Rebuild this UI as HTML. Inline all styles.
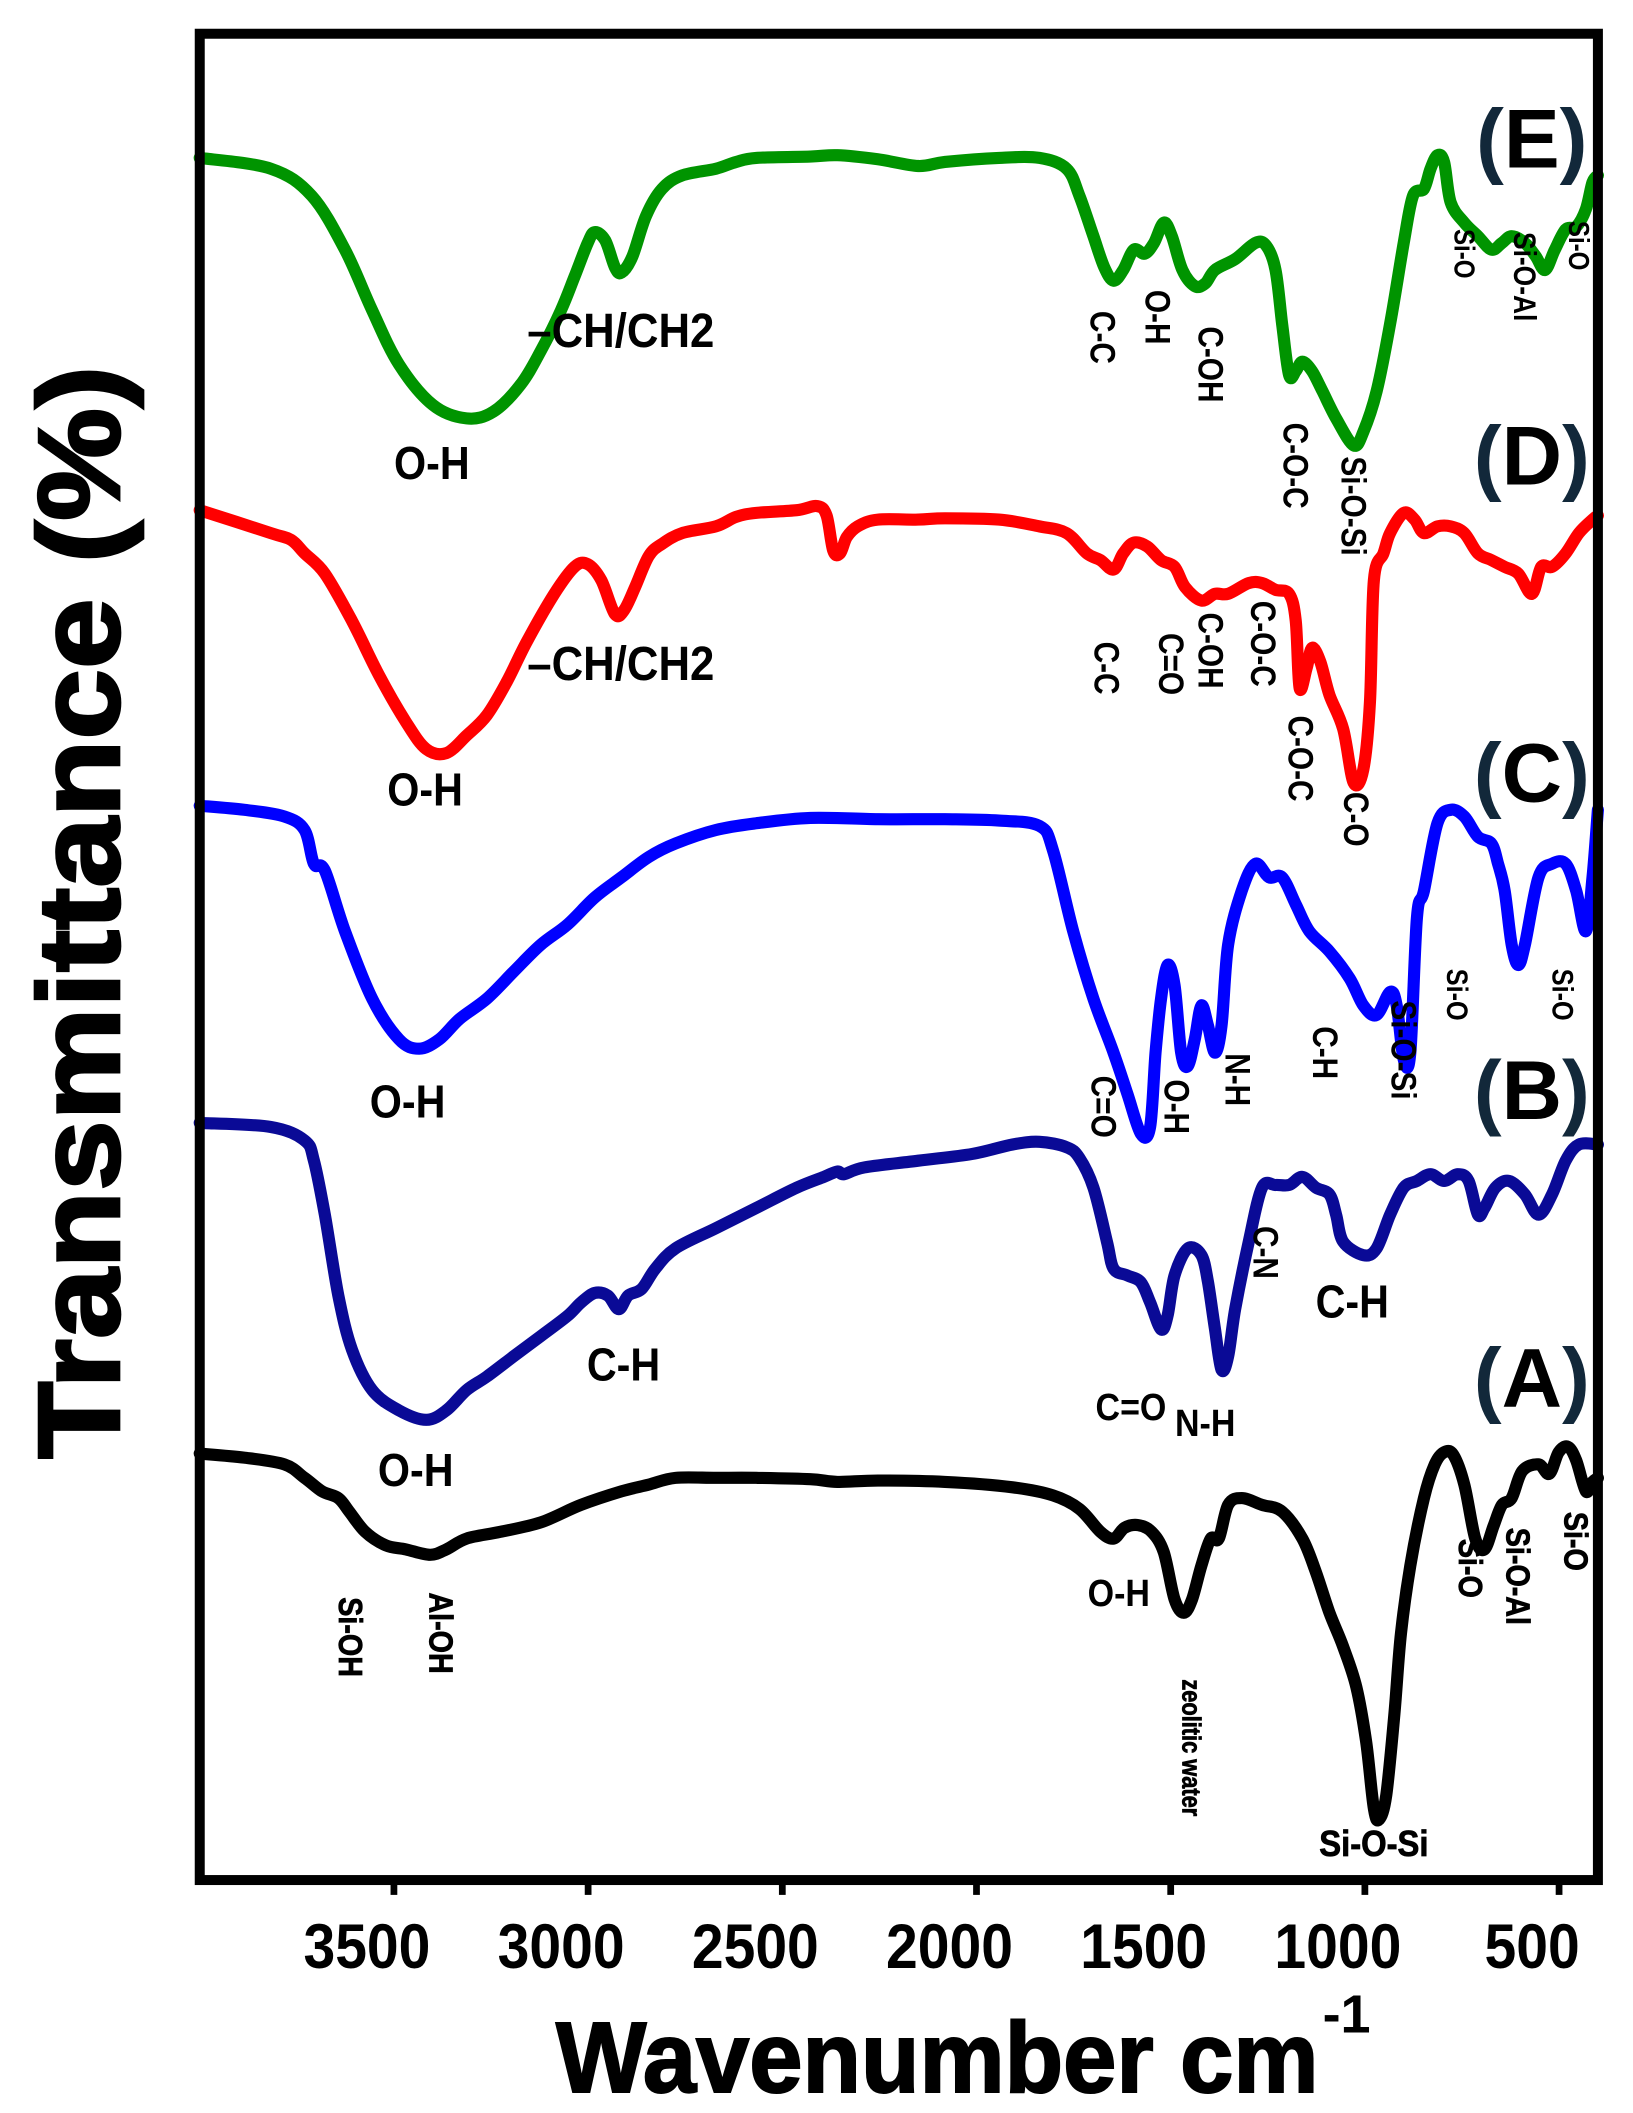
<!DOCTYPE html>
<html><head><meta charset="utf-8"><style>
html,body{margin:0;padding:0;background:#fff;}
svg{display:block;}
text{font-family:"Liberation Sans",sans-serif;font-weight:bold;}
</style></head><body>
<svg id="chart" width="1633" height="2113" viewBox="0 0 1210 1565.6" preserveAspectRatio="none" xmlns="http://www.w3.org/2000/svg">
<g id="series"></g>
<rect x="148" y="25" width="1036" height="1368" fill="none" stroke="#000" stroke-width="7.4"/>
<g id="xticks"></g>
<text transform="translate(88,676) rotate(-90)" text-anchor="middle" font-size="86" textLength="810" lengthAdjust="spacingAndGlyphs" stroke="#000" stroke-width="2">Transmittance (%)</text>
<text x="412" y="1550" font-size="74" textLength="565" lengthAdjust="spacingAndGlyphs" stroke="#000" stroke-width="1.5">Wavenumber cm</text>
<text x="980" y="1506" font-size="40">-1</text>
<g id="labels"></g>
</svg>
<script>
const xTicks=[3500,3000,2500,2000,1500,1000,500];
const wnE=[4000,3817,3712,3626,3556,3487,3400,3313,3244,3174,3122,3070,3035,3001,2983,2956,2931,2914,2886,2851,2810,2758,2671,2619,2567,2428,2358,2254,2150,2081,1942,1838,1768,1735,1699,1671,1647,1622,1595,1567,1543,1518,1497,1470,1438,1411,1386,1334,1282,1254,1230,1213,1195,1178,1161,1136,1109,1074,1029,1004,970,935,900,876,848,831,813,796,779,744,709,674,647,622,588,560,536,511,483,456,431,414,400];
const tE=[1276,1268,1248,1208,1163,1123,1093,1083,1088,1108,1133,1163,1188,1213,1221,1215,1195,1191,1203,1233,1253,1263,1268,1273,1276,1277,1278,1275,1270,1273,1276,1276,1268,1248,1218,1195,1185,1193,1208,1205,1213,1228,1218,1193,1181,1183,1193,1201,1213,1211,1193,1153,1115,1118,1125,1118,1103,1083,1063,1073,1103,1153,1213,1248,1253,1268,1278,1273,1243,1228,1218,1208,1213,1218,1213,1203,1193,1208,1223,1225,1238,1258,1263];
const wnD=[4000,3817,3765,3730,3678,3608,3539,3469,3417,3365,3313,3261,3209,3157,3087,3035,3001,2966,2931,2907,2879,2844,2810,2758,2671,2619,2567,2463,2410,2386,2369,2351,2334,2306,2254,2150,2081,1942,1838,1768,1716,1681,1647,1622,1595,1560,1525,1490,1463,1421,1386,1352,1299,1265,1230,1195,1178,1168,1150,1136,1115,1091,1056,1029,1004,987,977,952,935,900,872,848,813,779,744,709,674,640,605,570,546,518,483,449,414,400];
const tD=[1015,998,993,983,968,933,893,858,838,835,848,863,888,918,953,973,975,963,938,941,958,981,990,998,1003,1010,1013,1015,1018,1011,985,983,995,1003,1008,1008,1009,1008,1003,998,983,978,971,983,991,988,978,973,958,948,953,953,961,961,956,953,933,883,898,913,903,878,853,813,823,873,963,983,998,1013,1008,998,1003,1003,998,983,978,973,968,953,973,973,983,998,1008,1011];
const wnC=[4000,3886,3782,3730,3706,3678,3626,3556,3487,3435,3383,3331,3261,3192,3122,3053,2983,2914,2844,2775,2671,2567,2428,2254,2081,1942,1838,1803,1751,1699,1647,1612,1577,1553,1539,1525,1508,1490,1473,1456,1438,1421,1404,1386,1369,1352,1317,1282,1247,1213,1178,1143,1091,1039,1004,970,935,918,900,883,866,848,813,779,744,709,674,657,640,622,605,588,553,518,483,456,431,414,400];
const tC=[796,793,788,778,753,748,703,653,623,616,623,638,653,673,693,708,728,743,758,768,778,783,787,786,786,785,781,763,703,653,613,583,553,558,613,653,678,663,613,603,623,648,633,613,633,693,733,753,743,743,723,703,688,668,648,641,658,648,608,613,713,733,783,793,788,773,768,753,733,693,678,693,743,753,753,733,703,743,793];
const wnB=[4000,3817,3730,3706,3678,3643,3608,3556,3487,3417,3365,3313,3261,3192,3122,3053,3018,2983,2949,2921,2897,2862,2827,2775,2671,2567,2463,2393,2358,2341,2289,2150,2011,1907,1838,1768,1735,1699,1664,1647,1612,1577,1553,1525,1508,1490,1456,1421,1404,1386,1369,1352,1334,1299,1265,1230,1195,1161,1126,1091,1074,1056,1004,970,935,900,866,831,796,761,733,709,692,664,629,588,553,518,483,449,400];
const tB=[561,558,548,533,493,433,393,363,348,341,348,363,373,388,403,418,428,435,433,423,433,438,453,468,483,498,513,521,525,523,528,533,538,545,547,543,535,513,473,453,448,443,428,408,418,448,468,463,443,408,378,388,423,473,513,515,515,521,513,508,493,473,463,468,493,513,518,523,518,523,518,493,498,513,518,508,493,508,533,545,545];
const wnA=[4000,3886,3782,3730,3685,3643,3615,3574,3521,3469,3407,3365,3313,3226,3122,3018,2914,2844,2775,2671,2567,2428,2358,2254,2081,1907,1803,1735,1681,1647,1619,1584,1549,1518,1490,1466,1445,1421,1397,1376,1352,1317,1265,1213,1161,1126,1091,1056,1022,997,977,963,945,924,907,883,848,820,796,772,744,716,692,668,647,622,595,553,525,501,477,456,431,414,400];
const tA=[316,313,308,298,288,283,273,258,248,245,241,245,253,258,265,278,288,293,298,298,298,297,295,296,295,291,285,275,258,253,261,263,258,243,208,198,208,233,253,253,278,283,278,273,253,228,198,173,143,103,53,45,63,123,183,233,283,308,317,315,293,253,245,263,278,283,303,308,301,317,321,311,288,295,298];
const seriesNames=['A','B','C','D','E'];
const seriesColors={A:'#000000',B:'#0a0a96',C:'#0000ff',D:'#ff0000',E:'#009400'};

const NS='http://www.w3.org/2000/svg';
function xScale(w){return 148+(4000-w)/3600*1036;}
function yScale(t){return 1393-t;}
function smoothPath(pts){
  let d='M'+pts[0][0].toFixed(1)+','+pts[0][1].toFixed(1);
  for(let i=0;i<pts.length-1;i++){
    const p0=pts[Math.max(0,i-1)],p1=pts[i],p2=pts[i+1],p3=pts[Math.min(pts.length-1,i+2)];
    const c1x=p1[0]+(p2[0]-p0[0])/6,c1y=p1[1]+(p2[1]-p0[1])/6;
    const c2x=p2[0]-(p3[0]-p1[0])/6,c2y=p2[1]-(p3[1]-p1[1])/6;
    d+='C'+c1x.toFixed(1)+','+c1y.toFixed(1)+' '+c2x.toFixed(1)+','+c2y.toFixed(1)+' '+p2[0].toFixed(1)+','+p2[1].toFixed(1);
  }
  return d;
}
const data={A:[wnA,tA],B:[wnB,tB],C:[wnC,tC],D:[wnD,tD],E:[wnE,tE]};
const g=document.getElementById('series');
seriesNames.forEach(function(k){
  const w=data[k][0],t=data[k][1];const n=Math.min(w.length,t.length);
  const pts=[];for(let i=0;i<n;i++){pts.push([xScale(w[i]),yScale(t[i])]);}
  const p=document.createElementNS(NS,'path');
  p.setAttribute('d',smoothPath(pts));p.setAttribute('fill','none');p.setAttribute('stroke',seriesColors[k]);
  p.setAttribute('stroke-width','9');p.setAttribute('stroke-linejoin','round');p.setAttribute('stroke-linecap','round');
  
  
  g.appendChild(p);
});
const tg=document.getElementById('xticks');
xTicks.forEach(function(v){
  const x=xScale(v);
  const l=document.createElementNS(NS,'line');
  l.setAttribute('x1',x);l.setAttribute('x2',x);l.setAttribute('y1',1393);l.setAttribute('y2',1404);
  l.setAttribute('stroke','#000');l.setAttribute('stroke-width','5');
  
  
  tg.appendChild(l);
  const t=document.createElementNS(NS,'text');
  t.setAttribute('x',0);t.setAttribute('y',0);t.setAttribute('text-anchor','middle');t.setAttribute('font-size','47');
  t.setAttribute('transform','translate('+(x-20)+',1458) scale(0.9,1)');
  t.textContent=v;
  
  
  tg.appendChild(t);
});
const ann=[
['O-H',320,355,0,34,'bold'],['\u2013CH/CH2',460,257,0,36,'bold'],['C-C',817,250,1,26,'bold'],['O-H',858,235,1,26,'bold'],['C-OH',897,270,1,26,'bold'],['C-O-C',960,345,1,26,'bold'],['Si-O-Si',1003,375,1,26,'bold'],['Si-O',1085,188,1,21,'bold'],['Si-O-Al',1130,205,1,23,'bold'],['Si-O',1170,182,1,21,'bold'],
['O-H',315,597,0,34,'bold'],['\u2013CH/CH2',460,504,0,36,'bold'],['C-C',820,495,1,26,'bold'],['C=O',868,492,1,26,'bold'],['C-OH',897,482,1,26,'bold'],['C-O-C',936,477,1,26,'bold'],['C-O-C',964,562,1,26,'bold'],['C-O',1005,607,1,26,'bold'],
['O-H',302,828,0,34,'bold'],['C=O',818,820,1,26,'bold'],['O-H',872,820,1,26,'bold'],['N-H',917,800,1,26,'bold'],['C-H',982,780,1,26,'bold'],['Si-O-Si',1040,778,1,26,'bold'],['Si-O',1080,737,1,22,'bold'],['Si-O',1158,737,1,22,'bold'],
['O-H',308,1101,0,34,'bold'],['C-H',462,1023,0,34,'bold'],['C=O',838,1052,0,28,'bold'],['N-H',893,1064,0,28,'bold'],['C-N',938,928,1,26,'bold'],['C-H',1002,976,0,34,'bold'],
['Si-OH',260,1213,1,25,'normal'],['Al-OH',327,1210,1,25,'normal'],['O-H',829,1190,0,28,'bold'],['zeolitic water',883,1295,1,19,'normal'],['Si-O-Si',1018,1375,0,27,'normal'],['Si-O',1090,1162,1,25,'normal'],['Si-O-Al',1125,1168,1,25,'normal'],['Si-O',1168,1142,1,25,'normal']
];
const lg=document.getElementById('labels');
ann.forEach(function(a){
  const t=document.createElementNS(NS,'text');
  t.setAttribute('font-size',a[4]);t.setAttribute('text-anchor','middle');t.setAttribute('font-weight',a[5]);
  if(a[5]==='normal'){t.setAttribute('stroke','#000');t.setAttribute('stroke-width','0.6');}
  t.setAttribute('x',0);
  if(a[3]){t.setAttribute('transform','translate('+a[1]+','+a[2]+') rotate(90) scale(0.85,1)');t.setAttribute('y',a[4]*0.35);}
  else{t.setAttribute('transform','translate('+a[1]+','+a[2]+') scale(0.9,1)');t.setAttribute('y',0);}
  t.textContent=a[0];
  
  
  lg.appendChild(t);
});
const panels=[['(E)',1135,124],['(D)',1135,359],['(C)',1135,594],['(B)',1135,829],['(A)',1135,1042]];
panels.forEach(function(p){
  const t=document.createElementNS(NS,'text');
  t.setAttribute('x',p[1]);t.setAttribute('y',p[2]);t.setAttribute('text-anchor','middle');t.setAttribute('font-size','62');
  t.innerHTML='<tspan fill="#12283a">(</tspan>'+p[0].charAt(1)+'<tspan fill="#12283a">)</tspan>';
  
  
  lg.appendChild(t);
});
</script>
</body></html>
